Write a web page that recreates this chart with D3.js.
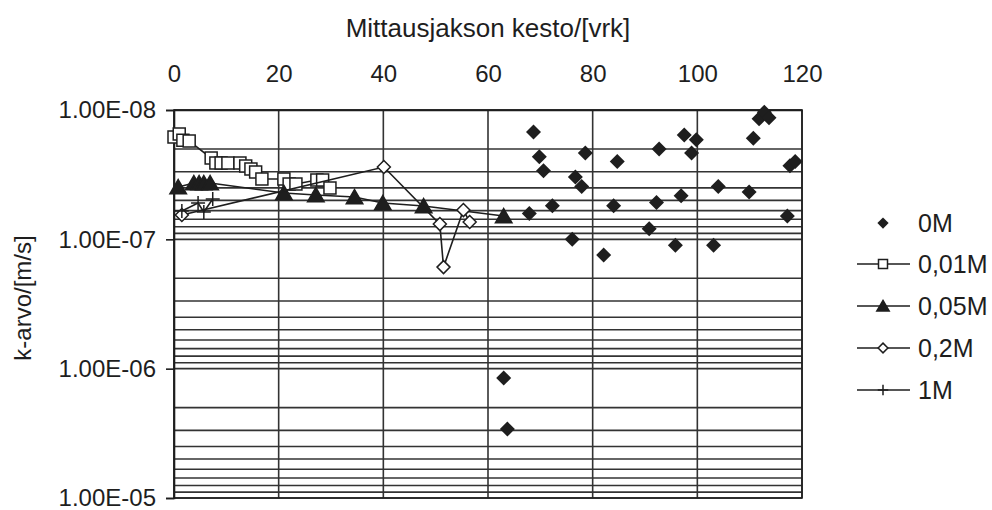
<!DOCTYPE html>
<html>
<head>
<meta charset="utf-8">
<script src="https://cdn.jsdelivr.net/npm/d3@7"></script>
<style>
  html, body { margin: 0; padding: 0; background: #fff; }
  svg { display: block; font-family: "Liberation Sans", Arial, Helvetica, sans-serif; }
</style>
</head>
<body>
<svg id="chart" width="992" height="510"></svg>
<script>
// Measurement duration (days) and hydraulic conductivity k (m/s) per salt concentration
const seriesNames = ["0M", "0,01M", "0,05M", "0,2M", "1M"];

const days0M = [63.0, 63.7, 67.9, 68.7, 69.8, 70.6, 72.3, 76.1, 76.7, 77.9, 78.6, 82.1, 84.0, 84.7,
  90.8, 92.2, 92.7, 95.8, 96.9, 97.5, 98.9, 99.8, 103.1, 104.0, 109.9, 110.7, 111.8, 112.8, 113.7,
  117.2, 117.7, 118.7];
const k0M = [1.18e-6, 2.93e-6, 6.3e-8, 1.48e-8, 2.3e-8, 2.95e-8, 5.5e-8, 1.0e-7, 3.3e-8, 3.9e-8, 2.15e-8,
  1.32e-7, 5.5e-8, 2.5e-8, 8.3e-8, 5.2e-8, 2.0e-8, 1.11e-7, 4.6e-8, 1.56e-8, 2.15e-8, 1.7e-8, 1.11e-7,
  3.9e-8, 4.3e-8, 1.65e-8, 1.17e-8, 1.04e-8, 1.15e-8, 6.6e-8, 2.7e-8, 2.5e-8];

const days001M = [0, 1.0, 1.7, 2.9, 7.1, 8.0, 9.0, 10.3, 12.6, 13.7, 14.7, 15.6, 16.8, 21.0, 22.0, 23.3,
  27.3, 28.4, 29.8];
const k001M = [1.62e-8, 1.53e-8, 1.71e-8, 1.74e-8, 2.35e-8, 2.57e-8, 2.57e-8, 2.57e-8, 2.57e-8, 2.71e-8,
  2.86e-8, 3.02e-8, 3.42e-8, 3.42e-8, 3.73e-8, 3.73e-8, 3.48e-8, 3.48e-8, 4.01e-8];

const days005M = [0.8, 3.8, 4.8, 5.7, 6.9, 21.0, 27.1, 34.5, 39.9, 47.7, 63.0];
const k005M = [3.94e-8, 3.67e-8, 3.67e-8, 3.67e-8, 3.67e-8, 4.38e-8, 4.54e-8, 4.71e-8, 5.24e-8, 5.53e-8, 6.61e-8];

const days02M = [1.5, 40.1, 50.8, 51.5, 55.3, 56.5];
const k02M = [6.49e-8, 2.76e-8, 7.62e-8, 1.64e-7, 5.94e-8, 7.35e-8];

const days1M = [1.5, 4.6, 5.7, 7.4];
const k1M = [6.04e-8, 5.24e-8, 6.15e-8, 4.88e-8];

const xTicks = [0, 20, 40, 60, 80, 100, 120];
const yTicks = [1e-8, 1e-7, 1e-6, 1e-5];
const xTitle = "Mittausjakson kesto/[vrk]";
const yTitle = "k-arvo/[m/s]";

const svg = d3.select("#chart");
const ink = "#1e1e1e";
const gridInk = "#333";

const x = d3.scaleLinear().domain([0, 120]).range([174, 802]);
const y = d3.scaleLog().domain([1e-8, 1e-5]).range([110, 498]);

// Horizontal grid: every 1..9 multiple within each decade
const gridVals = [];
for (let e = -8; e <= -6; e++) {
  for (let m = 1; m <= 9; m++) gridVals.push(m * Math.pow(10, e));
}
gridVals.push(1e-5);

const grid = svg.append("g");
grid.selectAll("line.h").data(gridVals).join("line")
  .attr("x1", x(0)).attr("x2", x(120))
  .attr("y1", d => y(d)).attr("y2", d => y(d))
  .attr("stroke", gridInk).attr("stroke-width", 1.6);
grid.selectAll("line.v").data(xTicks).join("line")
  .attr("x1", d => x(d)).attr("x2", d => x(d))
  .attr("y1", y(1e-8)).attr("y2", y(1e-5))
  .attr("stroke", gridInk).attr("stroke-width", 1.6);

// Axes
const fmtE = v => {
  const e = Math.round(Math.log10(v));
  const s = String(Math.abs(e)).padStart(2, "0");
  return "1.00E" + (e < 0 ? "-" : "+") + s;
};

const yAxis = svg.append("g")
  .attr("transform", `translate(${x(0)},0)`)
  .call(d3.axisLeft(y).tickValues(yTicks).tickFormat(fmtE).tickSize(8).tickPadding(10));
yAxis.select(".domain").attr("stroke", ink).attr("stroke-width", 1.6);
yAxis.selectAll(".tick line").attr("stroke", ink).attr("stroke-width", 1.6);
yAxis.selectAll(".tick text").attr("font-size", 24).attr("fill", ink)
  .attr("font-family", "Liberation Sans, Arial, sans-serif");

const xAxis = svg.append("g")
  .attr("transform", `translate(0,${y(1e-8)})`)
  .call(d3.axisTop(x).tickValues(xTicks).tickFormat(d3.format("d")).tickSize(0).tickPadding(28));
xAxis.select(".domain").attr("stroke", ink).attr("stroke-width", 1.6);
xAxis.selectAll(".tick text").attr("font-size", 24).attr("fill", ink)
  .attr("font-family", "Liberation Sans, Arial, sans-serif");

// Plot frame
svg.append("rect")
  .attr("x", x(0)).attr("y", y(1e-8))
  .attr("width", x(120) - x(0)).attr("height", y(1e-5) - y(1e-8))
  .attr("fill", "none").attr("stroke", ink).attr("stroke-width", 1.6);

// Titles
svg.append("text")
  .attr("x", 488).attr("y", 37)
  .attr("text-anchor", "middle").attr("font-size", 26).attr("fill", ink)
  .text(xTitle);
svg.append("text")
  .attr("transform", "translate(31,298) rotate(-90)")
  .attr("text-anchor", "middle").attr("font-size", 24).attr("fill", ink)
  .text(yTitle);

// Marker shapes (r = half size)
const shapes = {
  diamond: r => `M0,${-r}L${r},0L0,${r}L${-r},0Z`,
  square: r => `M${-r},${-r}H${r}V${r}H${-r}Z`,
  triangle: r => `M0,${-r}L${r * 1.1},${r * 0.9}L${-r * 1.1},${r * 0.9}Z`,
  plus: r => `M${-r},0H${r}M0,${-r}V${r}`
};

const markerStyle = {
  "0M": { shape: "diamond", r: 7.5, fill: ink, stroke: "none" },
  "0,01M": { shape: "square", r: 6, fill: "#fff", stroke: ink },
  "0,05M": { shape: "triangle", r: 7.5, fill: ink, stroke: ink },
  "0,2M": { shape: "diamond", r: 6.5, fill: "#fff", stroke: ink },
  "1M": { shape: "plus", r: 7, fill: "none", stroke: ink }
};

function drawMarker(g, name, scaleF) {
  const s = markerStyle[name];
  g.append("path").attr("d", shapes[s.shape](s.r * scaleF))
    .attr("fill", s.fill).attr("stroke", s.stroke).attr("stroke-width", 1.5);
}

const series = [
  { name: "0M", xs: days0M, ks: k0M, line: false },
  { name: "0,01M", xs: days001M, ks: k001M, line: true },
  { name: "0,05M", xs: days005M, ks: k005M, line: true },
  { name: "0,2M", xs: days02M, ks: k02M, line: true },
  { name: "1M", xs: days1M, ks: k1M, line: true }
];

const lineGen = d3.line().x(d => x(d[0])).y(d => y(d[1]));

series.forEach(s => {
  const pts = s.xs.map((v, i) => [v, s.ks[i]]);
  if (s.line) {
    svg.append("path").datum(pts).attr("d", lineGen)
      .attr("fill", "none").attr("stroke", ink).attr("stroke-width", 1.6);
  }
  const g = svg.append("g");
  pts.forEach(p => {
    const m = g.append("g").attr("transform", `translate(${x(p[0])},${y(p[1])})`);
    drawMarker(m, s.name, 1);
  });
});

// Legend
const legend = svg.append("g");
const legendY = [223, 264, 306, 348, 390];
seriesNames.forEach((name, i) => {
  const row = legend.append("g").attr("transform", `translate(883,${legendY[i]})`);
  if (i > 0) {
    row.append("line").attr("x1", -26).attr("x2", 27).attr("y1", 0).attr("y2", 0)
      .attr("stroke", ink).attr("stroke-width", 1.6);
  }
  drawMarker(row, name, 0.75);
  row.append("text").attr("x", 35).attr("y", 0).attr("dy", "0.36em")
    .attr("font-size", 25).attr("fill", ink).text(name);
});
</script>
</body>
</html>
